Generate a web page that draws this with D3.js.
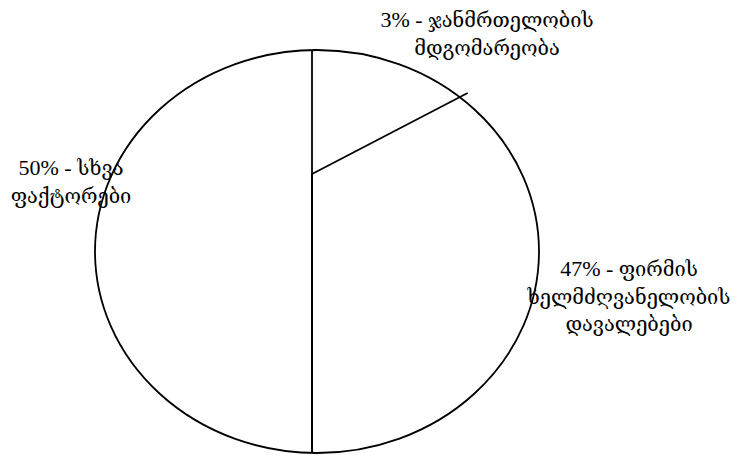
<!DOCTYPE html>
<html>
<head>
<meta charset="utf-8">
<script src="https://cdn.jsdelivr.net/npm/d3@7"></script>
<style>
  html, body { margin: 0; padding: 0; background: #fff; }
  svg { display: block; }
  .label { font-family: "DejaVu Serif", serif; font-size: 20px; fill: #000; }
  .num { font-family: "Liberation Serif", serif; font-size: 22px; }
</style>
</head>
<body>
<div id="chart-area"></div>
<script>
// data
var categories = ["ჯანმრთელობის მდგომარეობა", "ფირმის ხელმძღვანელობის დავალებები", "სხვა ფაქტორები"];
var values = [3, 47, 50];
var labelLines = [
    ["3% - ჯანმრთელობის", "მდგომარეობა"],
    ["47% - ფირმის", "ხელმძღვანელობის", "დავალებები"],
    ["50% - სხვა", "ფაქტორები"]
];

var width = 755, height = 455;

var svg = d3.select("#chart-area")
    .append("svg")
        .attr("width", width)
        .attr("height", height);

// outline ellipse and the (off centre) point the slices meet at
var ell = { cx: 317, cy: 251.5, rx: 222, ry: 201.5 };
var hub = { x: 312, y: 174 };

var pie = d3.pie().sort(null).value(function(d){ return d; });
var arcs = pie(values);

// the original drawing is skewed: pie angle -> drawn angle
var skew = d3.scaleLinear()
    .domain([0, Math.PI * 2 * 0.03, Math.PI, Math.PI * 2])
    .range([0, 62.5 * Math.PI / 180, Math.PI, Math.PI * 2]);

// where a ray from the hub hits the ellipse
function edgePoint(a) {
    var dx = Math.sin(a), dy = -Math.cos(a);
    var ox = (hub.x - ell.cx) / ell.rx, oy = (hub.y - ell.cy) / ell.ry;
    var ux = dx / ell.rx, uy = dy / ell.ry;
    var A = ux * ux + uy * uy,
        B = 2 * (ox * ux + oy * uy),
        C = ox * ox + oy * oy - 1;
    var t = (-B + Math.sqrt(B * B - 4 * A * C)) / (2 * A);
    return { t: t, dx: dx, dy: dy };
}

svg.append("ellipse")
    .attr("cx", ell.cx)
    .attr("cy", ell.cy)
    .attr("rx", ell.rx)
    .attr("ry", ell.ry)
    .attr("fill", "#fff")
    .attr("stroke", "#000")
    .attr("stroke-width", 1.8);

// slice borders: start of each slice plus the end of the 47% one
var borders = arcs.map(function(d){ return d.startAngle; }).concat([arcs[1].endAngle]);

function tip(d) {
    var a = skew(d);
    var p = edgePoint(a);
    var over = (Math.abs(Math.sin(a)) > 0.01) ? 9 : 0;
    return [hub.x + (p.t + over) * p.dx, hub.y + (p.t + over) * p.dy];
}

svg.selectAll("line.border")
    .data(borders)
    .enter()
    .append("line")
        .attr("class", "border")
        .attr("x1", hub.x)
        .attr("y1", hub.y)
        .attr("x2", function(d){ return tip(d)[0]; })
        .attr("y2", function(d){ return tip(d)[1]; })
        .attr("stroke", "#000")
        .attr("stroke-width", 1.8);

// labels
var labelPos = [ { x: 487, y: 27 }, { x: 629, y: 276 }, { x: 71, y: 175 } ];
var lineGap = 27.5;

labelLines.forEach(function(lines, i) {
    var t = svg.append("text")
        .attr("class", "label")
        .attr("text-anchor", "middle")
        .attr("x", labelPos[i].x)
        .attr("y", labelPos[i].y);
    lines.forEach(function(s, j) {
        var span = t.append("tspan")
            .attr("x", labelPos[i].x)
            .attr("dy", j === 0 ? 0 : lineGap);
        var m = s.match(/^(\d+% - )(.*)$/);
        if (m) {
            span.append("tspan").attr("class", "num").text(m[1]);
            span.append("tspan").text(m[2]);
        } else {
            span.text(s);
        }
    });
});
</script>
</body>
</html>
